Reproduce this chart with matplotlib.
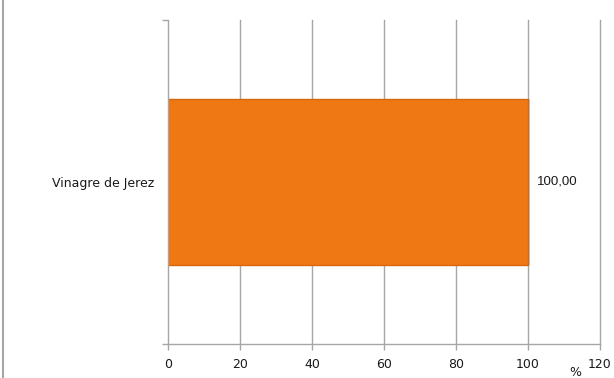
import matplotlib
matplotlib.use("Agg")
import matplotlib.pyplot as plt
from matplotlib.lines import Line2D

categories = ["Vinagre de Jerez"]
values = [100.00]
value_labels = ["100,00"]
xticks = [0, 20, 40, 60, 80, 100, 120]

fig = plt.figure(figsize=(6.14, 3.78), dpi=100)
ax = fig.add_axes([168/614, 1-344/378, 432/614, 324/378])

grid_c = "#a6a6a6"
ax.set_xlim(0, 120)
ax.set_ylim(-0.5, 0.5)
for x in xticks[1:]:
    ax.axvline(x, color=grid_c, lw=1.0, zorder=0, clip_on=False)

# shadow
ax.barh(range(len(categories)), values, height=0.51, left=0.6,
        color="#b0b0b0", alpha=0.5, zorder=1)
ax.barh(range(len(categories)), values, height=0.51,
        color="#f07814", edgecolor="#d8660c", linewidth=1.0, zorder=2)

for i, (v, lab) in enumerate(zip(values, value_labels)):
    ax.text(v + 2.5, i, lab, va="center", ha="left", fontsize=9.5,
            family="Liberation Sans", color="#1a1a1a")

ax.set_yticks(range(len(categories)))
ax.set_yticklabels(categories, fontsize=9, family="DejaVu Sans", color="#1a1a1a")
ax.set_xticks(xticks)
ax.set_xticklabels([str(t) for t in xticks], fontsize=9, family="DejaVu Sans", color="#1a1a1a")
ax.set_yticks([-0.5, 0.5], minor=True)
ax.tick_params(axis="y", which="major", length=0, pad=10)
ax.tick_params(axis="y", which="minor", length=4, color=grid_c, width=1)
ax.tick_params(axis="x", length=4, color=grid_c, width=1, pad=6)

for s in ["top", "right"]:
    ax.spines[s].set_visible(False)
for s in ["left", "bottom"]:
    ax.spines[s].set_color(grid_c)
    ax.spines[s].set_linewidth(1.0)

fig.text(575/614, 1-372/378, "%", fontsize=9, ha="center", va="center",
         family="DejaVu Sans", color="#1a1a1a")

fig.add_artist(Line2D([3/614, 3/614], [0, 1], color="#a6a6a6", lw=1.5,
                      transform=fig.transFigure))

fig.savefig("out.png", dpi=100)
